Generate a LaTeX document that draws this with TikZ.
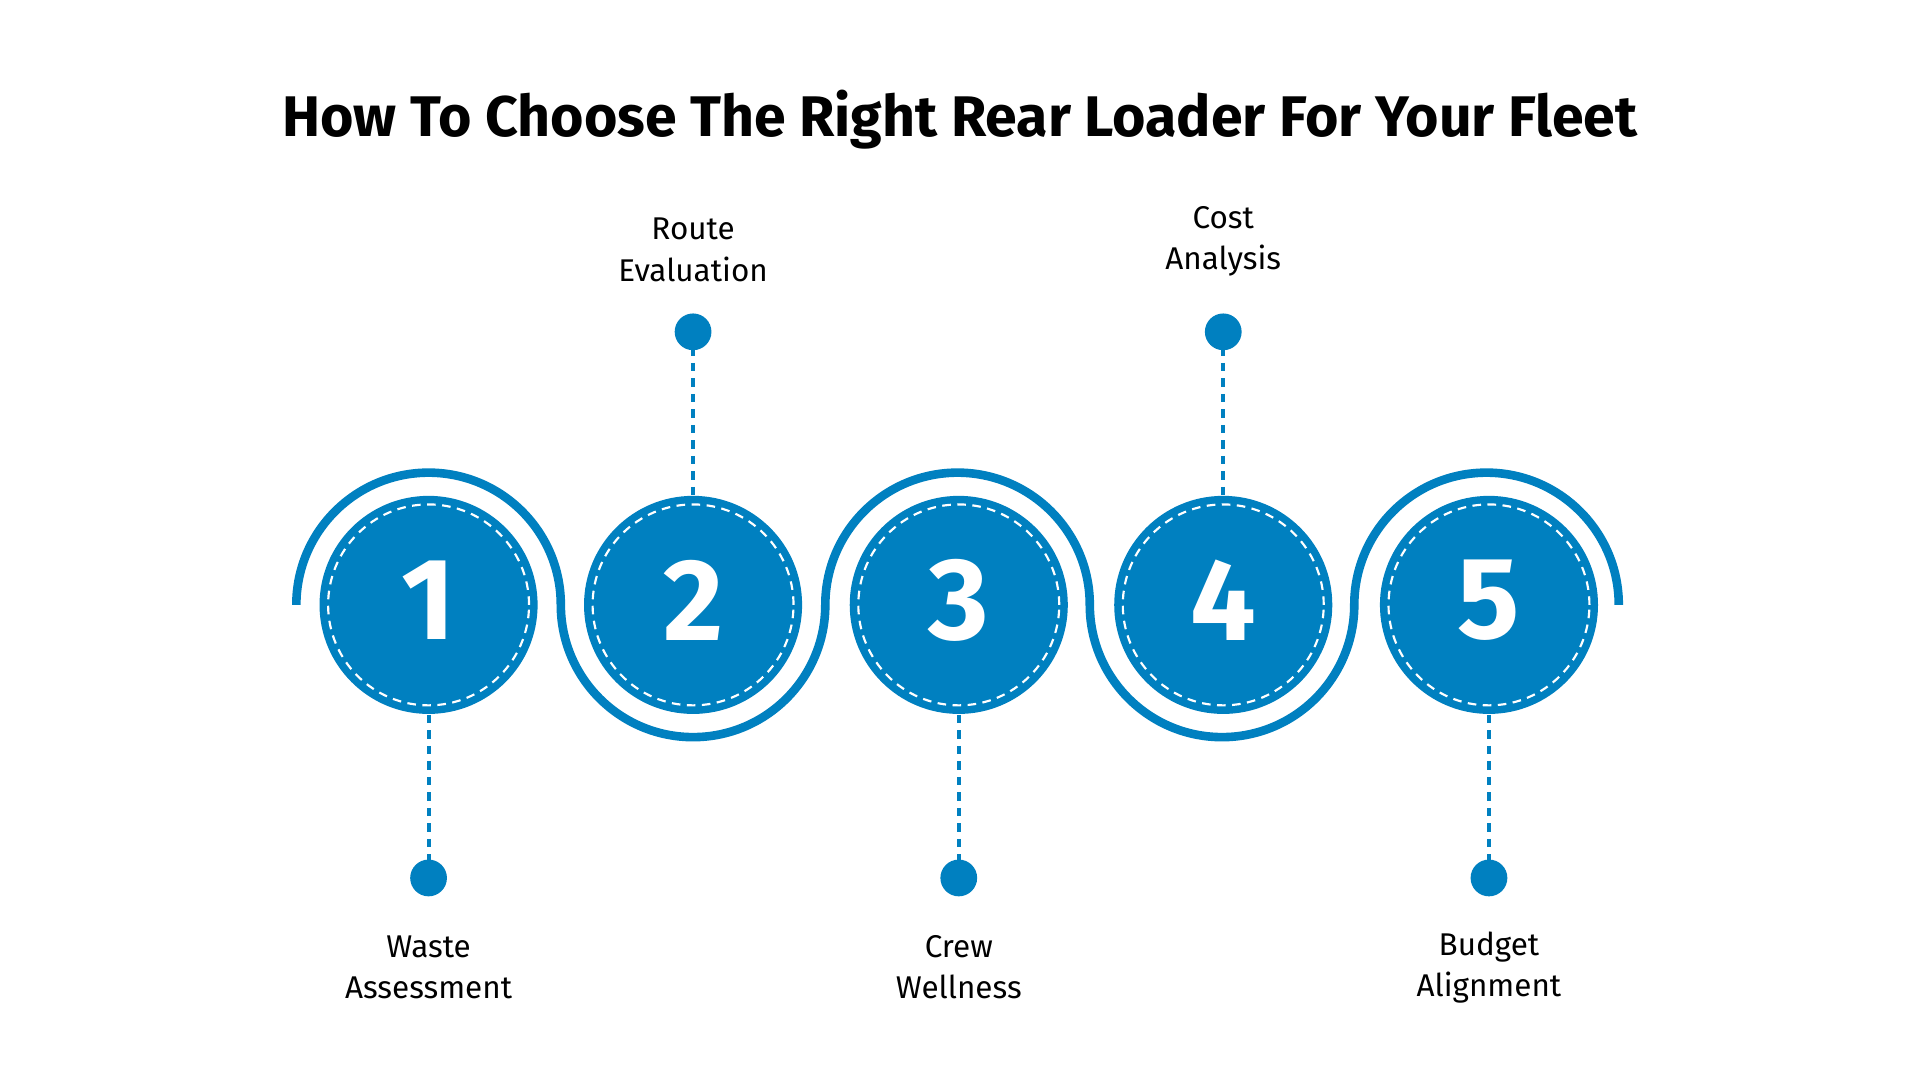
\documentclass[tikz,border=0pt]{standalone}
\usepackage{fontspec}
\setmainfont{Fira Sans}
\definecolor{blu}{HTML}{0080C0}
\begin{document}
\begin{tikzpicture}[x=0.01cm,y=-0.01cm,
  dot/.style={circle,fill=blu,minimum size=0.3cm,inner sep=0pt},
  lab/.style={align=center,font=\fontsize{7.3pt}{9.6pt}\selectfont,text=black},
  num/.style={text=white,font=\fontsize{27pt}{30pt}\selectfont\bfseries},
  conn/.style={blu,dashed,line width=0.9pt,dash pattern=on 2pt off 1.6pt},
  arc/.style={blu,line width=2pt}]
\useasboundingbox[fill=white] (0,0) rectangle (1568,882);
\node[font=\fontsize{13.3pt}{15pt}\selectfont\bfseries] (title) at (784,98) {How To Choose The Right Rear Loader For Your Fleet};
\draw[arc] (242,494) arc[start angle=180,end angle=360,radius=108]
  arc[start angle=180,end angle=0,radius=108]
  arc[start angle=180,end angle=360,radius=108]
  arc[start angle=180,end angle=0,radius=108]
  arc[start angle=180,end angle=360,radius=108];
\foreach \i/\x in {1/350,2/566,3/783,4/999,5/1216}{
  \node[circle,fill=blu,minimum size=1.78cm,inner sep=0pt] (c\i) at (\x,494) {};
  \draw[white,dashed,line width=0.5pt,dash pattern=on 2pt off 1.5pt] (c\i.center) circle[radius=0.82cm];
  \node[num] (n\i) at (\x,490) {\i};
}
\foreach \i/\x in {1/350,3/783,5/1216}{
  \node[dot] (d\i) at (\x,717) {};
  \draw[conn] (c\i.south) -- (d\i.center);
}
\foreach \i/\x in {2/566,4/999}{
  \node[dot] (d\i) at (\x,271) {};
  \draw[conn] (d\i.center) -- (c\i.north);
}
\node[lab] (l1) at (350,790) {Waste\\Assessment};
\node[lab] (l2) at (566,204) {Route\\Evaluation};
\node[lab] (l3) at (783,790) {Crew\\Wellness};
\node[lab] (l4) at (999,197) {Cost\\Analysis};
\node[lab] (l5) at (1216,790) {Budget\\Alignment};
\end{tikzpicture}
\end{document}
